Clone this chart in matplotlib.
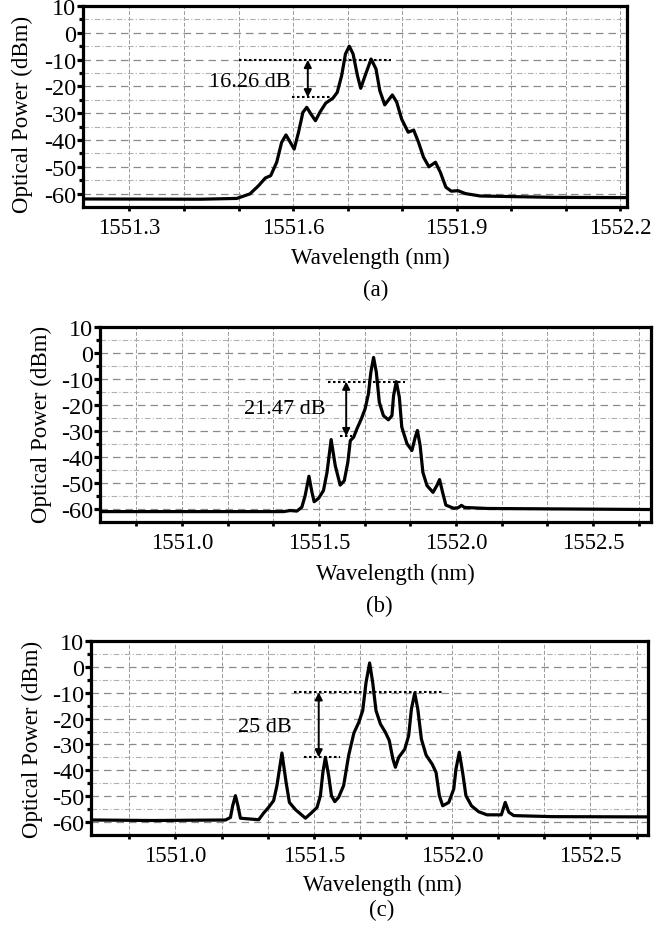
import numpy as np
import matplotlib.pyplot as plt
from matplotlib.ticker import FixedLocator, FormatStrFormatter, NullFormatter

plt.rcParams['font.family'] = ['Liberation Serif', 'DejaVu Serif']
plt.rcParams['font.size'] = 16
plt.rcParams['axes.unicode_minus'] = False

# ---- spectrum (a) ----
wl_a = [1551.215, 1551.430, 1551.497, 1551.521, 1551.537, 1551.549, 1551.559, 1551.570,
        1551.579, 1551.587, 1551.595, 1551.602, 1551.610, 1551.618, 1551.625, 1551.634,
        1551.641, 1551.649, 1551.660, 1551.673, 1551.681, 1551.689, 1551.696, 1551.703,
        1551.710, 1551.718, 1551.724, 1551.732, 1551.743, 1551.752, 1551.759, 1551.768,
        1551.774, 1551.782, 1551.790, 1551.799, 1551.811, 1551.821, 1551.830, 1551.839,
        1551.849, 1551.861, 1551.870, 1551.880, 1551.890, 1551.902, 1551.916, 1551.943,
        1552.076, 1552.212]
pw_a = [-62.0, -62.1, -61.8, -60.1, -57.0, -54.2, -53.3, -48.3,
        -40.9, -38.1, -40.9, -43.4, -37.1, -29.7, -27.8, -30.7,
        -32.8, -29.7, -26.2, -24.4, -22.2, -16.0, -7.9, -5.0,
        -7.9, -16.0, -20.7, -16.0, -9.8, -13.5, -21.6, -26.9,
        -25.3, -23.2, -25.9, -32.2, -37.1, -36.3, -40.9, -46.4,
        -50.0, -48.3, -52.1, -57.6, -59.1, -58.9, -60.0, -60.9,
        -61.4, -61.5]

# ---- spectrum (b) ----
wl_b = [1550.700, 1551.066, 1551.370, 1551.394, 1551.419, 1551.437, 1551.449, 1551.463,
        1551.474, 1551.482, 1551.498, 1551.516, 1551.529, 1551.544, 1551.559, 1551.577,
        1551.592, 1551.605, 1551.614, 1551.626, 1551.638, 1551.654, 1551.668, 1551.680,
        1551.689, 1551.699, 1551.709, 1551.720, 1551.735, 1551.753, 1551.766, 1551.772,
        1551.782, 1551.793, 1551.802, 1551.821, 1551.839, 1551.851, 1551.859, 1551.869,
        1551.879, 1551.894, 1551.916, 1551.930, 1551.940, 1551.951, 1551.963, 1551.991,
        1552.008, 1552.020, 1552.031, 1552.115, 1552.710]
pw_b = [-61.0, -61.0, -61.0, -60.6, -60.8, -59.3, -54.9, -47.4,
        -53.6, -57.2, -55.9, -52.9, -45.9, -33.3, -43.3, -50.8,
        -49.1, -42.0, -33.7, -32.4, -29.2, -25.4, -21.5, -15.8,
        -7.4, -1.7, -7.4, -19.0, -24.1, -25.7, -24.1, -16.4,
        -11.0, -17.0, -28.5, -34.9, -37.5, -32.4, -29.8, -35.6,
        -45.9, -51.0, -53.6, -51.0, -48.7, -53.6, -58.5, -59.7,
        -59.5, -58.6, -59.4, -59.8, -60.2]

# ---- spectrum (c) ----
wl_c = [1550.700, 1550.916, 1551.181, 1551.199, 1551.207, 1551.217, 1551.226, 1551.235,
        1551.301, 1551.319, 1551.337, 1551.355, 1551.367, 1551.385, 1551.400, 1551.412,
        1551.434, 1551.470, 1551.491, 1551.512, 1551.524, 1551.533, 1551.542, 1551.554,
        1551.564, 1551.576, 1551.590, 1551.608, 1551.626, 1551.645, 1551.663, 1551.677,
        1551.689, 1551.702, 1551.713, 1551.725, 1551.741, 1551.759, 1551.773, 1551.786,
        1551.795, 1551.807, 1551.829, 1551.843, 1551.853, 1551.865, 1551.876, 1551.889,
        1551.906, 1551.928, 1551.942, 1551.954, 1551.966, 1551.988, 1552.006, 1552.014,
        1552.026, 1552.038, 1552.050, 1552.070, 1552.096, 1552.126, 1552.178, 1552.192,
        1552.205, 1552.223, 1552.361, 1552.708]
pw_c = [-59.2, -59.4, -59.2, -58.2, -53.7, -49.8, -53.7, -58.5,
        -59.1, -56.5, -54.3, -51.7, -45.9, -33.3, -44.6, -52.4,
        -55.2, -58.5, -56.5, -54.3, -49.8, -40.8, -35.0, -42.1,
        -49.8, -52.1, -50.4, -45.9, -34.3, -25.6, -21.4, -16.9,
        -6.0, 1.5, -6.0, -16.9, -22.1, -25.3, -28.5, -35.6,
        -38.8, -35.0, -31.8, -26.6, -16.3, -10.1, -16.3, -27.9,
        -34.1, -37.6, -40.8, -49.8, -53.7, -52.4, -47.2, -39.5,
        -33.0, -40.8, -49.8, -53.7, -56.0, -57.2, -57.2, -52.4,
        -56.2, -57.5, -57.9, -58.0]

# annotations: dotted reference levels, double arrow and difference label
ann_a = dict(hi=-10.1, hi_x=(1551.500, 1551.780), lo=-24.1, lo_x=(1551.598, 1551.668),
             ax_x=1551.627, text='16.26 dB', tx=1551.520, ty=-18.2)
ann_b = dict(hi=-11.0, hi_x=(1551.534, 1551.814), lo=-32.0, lo_x=(1551.577, 1551.620),
             ax_x=1551.599, text='21.47 dB', tx=1551.376, ty=-21.5)
ann_c = dict(hi=-9.8, hi_x=(1551.428, 1551.964), lo=-35.0, lo_x=(1551.464, 1551.596),
             ax_x=1551.518, text='25 dB', tx=1551.323, ty=-23.0)

xmaj_a = [1551.3, 1551.6, 1551.9, 1552.2]
xmin_a = [1551.4, 1551.5, 1551.7, 1551.8, 1552.0, 1552.1]
xmaj_bc = [1551.0, 1551.5, 1552.0, 1552.5]
xmin_bc = [1550.833, 1551.167, 1551.333, 1551.667, 1551.833, 1552.167, 1552.333, 1552.667]
ymaj = [-60, -50, -40, -30, -20, -10, 0, 10]
ymin = [-55, -45, -35, -25, -15, -5, 5]

W, H = 667, 929
fig = plt.figure(figsize=(W / 100, H / 100), dpi=100)


def make_axes(left, right, top, bottom):
    return fig.add_axes([left / W, 1 - bottom / H, (right - left) / W, (bottom - top) / H])


def draw_panel(ax, wl, pw, xlim, xmaj, xmin, ann, ylab_x, ylab_y, xlab_x, xlab_y, box):
    left, right, top, bottom = box
    ax.set_xlim(*xlim)
    ax.set_ylim(-65, 10)
    ax.xaxis.set_major_locator(FixedLocator(xmaj))
    ax.xaxis.set_minor_locator(FixedLocator(xmin))
    ax.xaxis.set_major_formatter(FormatStrFormatter('%.1f'))
    ax.xaxis.set_minor_formatter(NullFormatter())
    ax.yaxis.set_major_locator(FixedLocator(ymaj))
    ax.yaxis.set_minor_locator(FixedLocator(ymin))

    ax.grid(True, which='major', axis='y', color='#8a8a8a', lw=0.9, ls=(0, (6, 4)))
    ax.grid(True, which='minor', axis='y', color='#b0b0b0', lw=0.8, ls=(0, (5, 2, 1, 2)))
    ax.grid(True, which='both', axis='x', color='#9a9a9a', lw=0.7, ls=(0, (4, 2)))

    ax.plot(wl, pw, color='black', lw=2.3, solid_joinstyle='round', zorder=3)

    dot = (0, (1.2, 1.2))
    ax.plot(ann['hi_x'], [ann['hi'], ann['hi']], color='black', lw=1.5, ls=dot, zorder=4)
    ax.plot(ann['lo_x'], [ann['lo'], ann['lo']], color='black', lw=1.5, ls=dot, zorder=4)
    ax.annotate('', xy=(ann['ax_x'], ann['lo']), xytext=(ann['ax_x'], ann['hi']),
                arrowprops=dict(arrowstyle='<|-|>', color='black', lw=1.4,
                                mutation_scale=11, shrinkA=0, shrinkB=0), zorder=4)
    ax.text(ann['tx'], ann['ty'], ann['text'], ha='center', va='center', fontsize=16)

    for s in ax.spines.values():
        s.set_linewidth(2.3)
    ax.tick_params(axis='x', which='both', direction='out', length=3, width=2,
                   top=False, pad=4, labelsize=16.5)
    ax.tick_params(axis='y', which='major', direction='out', length=4, width=2.3,
                   right=False, pad=1, labelsize=17.5)
    ax.tick_params(axis='y', which='minor', direction='out', length=3, width=2.3, right=False)

    wpx, hpx = right - left, bottom - top
    ax.set_ylabel('Optical Power (dBm)', fontsize=16.5)
    ax.yaxis.label.set_va('center')
    ax.yaxis.set_label_coords((ylab_x - left) / wpx, (bottom - ylab_y) / hpx)
    ax.set_xlabel('Wavelength (nm)', fontsize=16.5)
    ax.xaxis.label.set_va('center')
    ax.xaxis.set_label_coords((xlab_x - left) / wpx, (bottom - xlab_y) / hpx)


box_a = (83, 627, 7, 208)
box_b = (100, 651, 328, 523)
box_c = (91, 648, 642, 836)

ax_a = make_axes(*box_a)
draw_panel(ax_a, wl_a, pw_a, (1551.215, 1552.212), xmaj_a, xmin_a, ann_a,
           22, 114, 370, 258, box_a)
ax_b = make_axes(*box_b)
draw_panel(ax_b, wl_b, pw_b, (1550.70, 1552.712), xmaj_bc, xmin_bc, ann_b,
           41, 424, 395, 574, box_b)
ax_c = make_axes(*box_c)
draw_panel(ax_c, wl_c, pw_c, (1550.695, 1552.708), xmaj_bc, xmin_bc, ann_c,
           32, 739, 382, 885, box_c)

for lab, (cx, cy) in zip(['(a)', '(b)', '(c)'], [(376, 290), (379, 606), (382, 910)]):
    fig.text(cx / W, 1 - cy / H, lab, ha='center', va='center', fontsize=16.5)

fig.savefig('out.png', dpi=100)
